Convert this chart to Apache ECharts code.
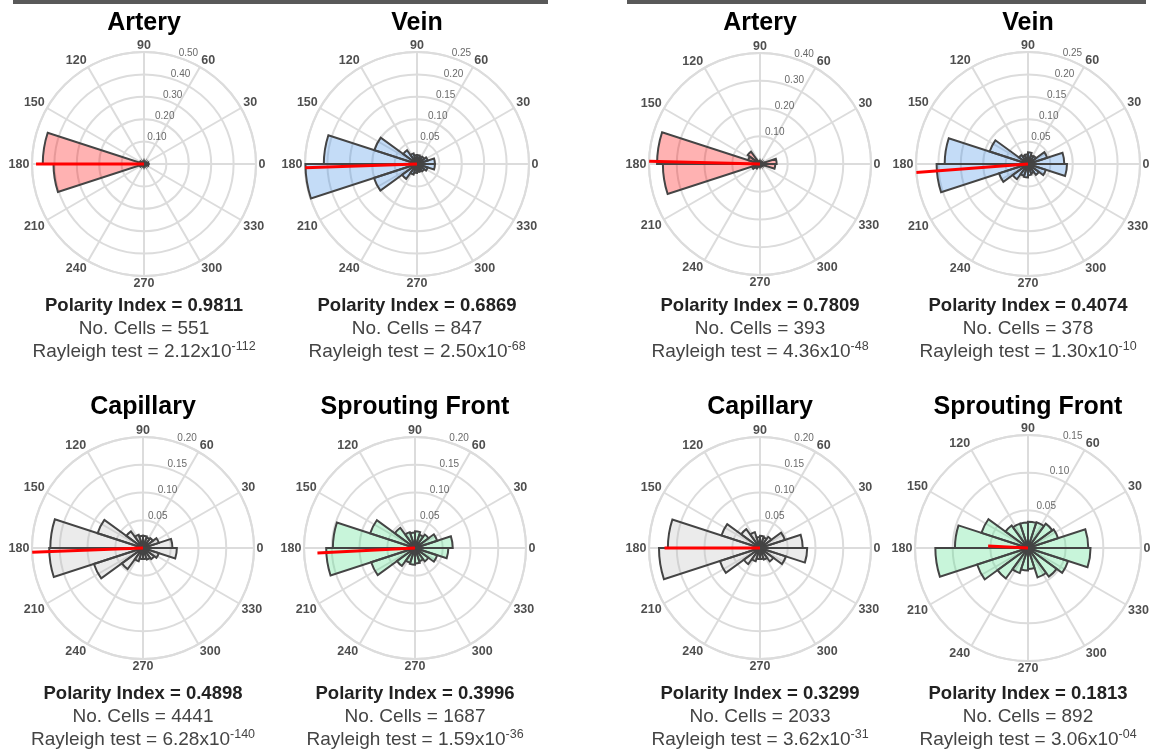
<!DOCTYPE html>
<html><head><meta charset="utf-8">
<script src="https://cdn.jsdelivr.net/npm/echarts@6/dist/echarts.min.js"></script>
<style>html,body{margin:0;padding:0;background:#fff}#c{width:1151px;height:755px}</style>
</head><body><div id="c"></div>
<script>
// ---------- DATA ----------
// 20 angular bins of 18 degrees, labelled by bin start angle (degrees, counter-clockwise from right)
const binStarts = [0,18,36,54,72,90,108,126,144,162,180,198,216,234,252,270,288,306,324,342];
// angle tick labels
const angleTicks = [0,30,60,90,120,150,180,210,240,270,300,330];

const panelNames = ['Artery','Vein','Artery','Vein','Capillary','Sprouting Front','Capillary','Sprouting Front'];

// fraction of cells per bin
const arteryLeft    = [0.020,0.006,0.004,0.004,0.005,0.004,0.005,0.008,0.020,0.452,0.404,0.020,0.008,0.005,0.004,0.004,0.004,0.005,0.006,0.020];
const veinLeft      = [0.040,0.025,0.020,0.018,0.020,0.020,0.025,0.038,0.100,0.208,0.249,0.101,0.041,0.025,0.020,0.018,0.018,0.020,0.025,0.040];
const arteryRight   = [0.060,0.010,0.006,0.005,0.006,0.006,0.010,0.055,0.045,0.371,0.350,0.030,0.020,0.006,0.005,0.005,0.006,0.008,0.012,0.055];
const veinRight     = [0.081,0.045,0.022,0.020,0.026,0.022,0.020,0.025,0.090,0.186,0.204,0.068,0.042,0.028,0.030,0.025,0.022,0.030,0.042,0.087];
const capillaryLeft = [0.053,0.030,0.022,0.020,0.022,0.022,0.025,0.037,0.086,0.167,0.169,0.093,0.047,0.025,0.020,0.020,0.022,0.025,0.030,0.061];
const sproutLeft    = [0.068,0.042,0.030,0.025,0.030,0.028,0.030,0.045,0.085,0.148,0.160,0.083,0.040,0.028,0.030,0.028,0.025,0.030,0.042,0.060];
const capillaryRight= [0.077,0.047,0.025,0.020,0.022,0.020,0.030,0.042,0.073,0.166,0.182,0.076,0.036,0.025,0.020,0.020,0.022,0.030,0.049,0.085];
const sproutRight   = [0.080,0.042,0.040,0.036,0.035,0.034,0.034,0.037,0.065,0.097,0.123,0.071,0.050,0.035,0.030,0.028,0.041,0.047,0.056,0.083];
const binValues = [arteryLeft, veinLeft, arteryRight, veinRight, capillaryLeft, sproutLeft, capillaryRight, sproutRight];

// radial axis: max and tick labels
const radialMax = [0.50, 0.25, 0.40, 0.25, 0.20, 0.20, 0.20, 0.15];
const radialTicks = [
  [0.10,0.20,0.30,0.40,0.50],
  [0.05,0.10,0.15,0.20,0.25],
  [0.10,0.20,0.30,0.40],
  [0.05,0.10,0.15,0.20,0.25],
  [0.05,0.10,0.15,0.20],
  [0.05,0.10,0.15,0.20],
  [0.05,0.10,0.15,0.20],
  [0.05,0.10,0.15]
];

// mean direction (red line): length in radial units, angle in degrees
const meanLength = [0.482, 0.251, 0.400, 0.254, 0.205, 0.176, 0.172, 0.053];
const meanAngle  = [180.0, 181.9, 178.6, 184.3, 182.2, 182.9, 180.0, 177.0];

// statistics
const polarityIndex = ['0.9811','0.6869','0.7809','0.4074','0.4898','0.3996','0.3299','0.1813'];
const cellCount     = ['551','847','393','378','4441','1687','2033','892'];
const rayleighBase  = ['2.12','2.50','4.36','1.30','6.28','1.59','3.62','3.06'];
const rayleighExp   = ['-112','-68','-48','-10','-140','-36','-31','-04'];

// ---------- LAYOUT / STYLE ----------
const layout = [
  {cx:144, cy:164, r:112}, {cx:417, cy:164, r:112}, {cx:760, cy:164, r:111}, {cx:1028, cy:164, r:112},
  {cx:143, cy:548, r:111}, {cx:415, cy:548, r:111}, {cx:760, cy:548, r:111}, {cx:1028, cy:548, r:113}
];
const nameTop  = [8, 8, 8, 8, 392, 392, 392, 392];
const statsTop = [294, 294, 294, 294, 682, 682, 682, 682];
const fills = ['rgba(255,0,0,0.3)','rgba(58,138,228,0.3)','rgba(255,0,0,0.3)','rgba(58,138,228,0.3)',
               'rgba(188,188,188,0.3)','rgba(72,222,132,0.3)','rgba(188,188,188,0.3)','rgba(72,222,132,0.3)'];
const FONT = "'Liberation Sans', Arial, Helvetica, sans-serif";
const GRID = '#dcdcdc';
const ANG_FS = 12.5;

// label box corner nearest the centre sits just outside the outer ring
function angleLabelOffset(a) {
  const rad = a * Math.PI / 180;
  const c = Math.cos(rad), s = Math.sin(rad);
  const halfW = String(a).length * ANG_FS * 0.556 / 2;
  const halfH = 4.6, gap = 2.6;
  const sx = Math.abs(c) < 0.3 ? 0 : Math.sign(c);
  const sy = Math.abs(s) < 0.3 ? 0 : Math.sign(s);
  return [c * gap + sx * halfW, -(s * gap + sy * halfH) + 0.5];
}

const polar = [], angleAxis = [], radiusAxis = [], series = [], title = [];
binValues.forEach((vals, i) => {
  const L = layout[i];
  const g = 2 * i, b = 2 * i + 1;
  polar.push({center:[L.cx, L.cy], radius:L.r});
  polar.push({center:[L.cx, L.cy], radius:L.r});
  angleAxis.push({
    polarIndex:g, type:'value', min:0, max:360, interval:30, startAngle:0, clockwise:false, z:1,
    axisLine:{show:true, lineStyle:{color:GRID, width:2}},
    axisTick:{show:false},
    axisLabel:{show:false},
    splitLine:{show:true, lineStyle:{color:GRID, width:2}}
  });
  angleAxis.push({
    polarIndex:b, type:'category', data:binStarts, startAngle:0, clockwise:false, boundaryGap:true,
    axisLine:{show:false}, axisTick:{show:false}, axisLabel:{show:false}, splitLine:{show:false}
  });
  const step = radialTicks[i][1] - radialTicks[i][0];
  radiusAxis.push({
    polarIndex:g, type:'value', min:0, max:radialMax[i], interval:Math.round(step*100)/100,
    axisLine:{show:false}, axisTick:{show:false}, axisLabel:{show:false},
    splitLine:{show:true, lineStyle:{color:GRID, width:2}}
  });
  radiusAxis.push({
    polarIndex:b, type:'value', min:0, max:radialMax[i],
    axisLine:{show:false}, axisTick:{show:false}, axisLabel:{show:false}, splitLine:{show:false}
  });
  series.push({
    type:'bar', coordinateSystem:'polar', polarIndex:b, data:vals,
    barCategoryGap:'0%', barGap:'0%', z:3, silent:true,
    itemStyle:{color:fills[i], borderColor:'#444', borderWidth:2}
  });
  series.push({
    type:'line', coordinateSystem:'polar', polarIndex:g, clip:false, z:5, silent:true,
    data:[[0, meanAngle[i]], [meanLength[i], meanAngle[i]]],
    symbol:'none', lineStyle:{color:'#ff0000', width:3}
  });
  // radial tick labels
  series.push({
    type:'scatter', coordinateSystem:'polar', polarIndex:g, z:6, silent:true,
    data: radialTicks[i].map(v => [v, 69.4]),
    symbolSize:1, itemStyle:{color:'rgba(0,0,0,0)'},
    label:{show:true, position:'inside', offset:[5,-6], fontSize:10, color:'#444', fontFamily:FONT,
      formatter: p => p.value[0].toFixed(2)}
  });
  // angle tick labels
  series.push({
    type:'scatter', coordinateSystem:'polar', polarIndex:g, z:6, silent:true, clip:false,
    data: angleTicks.map(a => ({value:[radialMax[i], a], label:{offset:angleLabelOffset(a)}})),
    symbolSize:1, itemStyle:{color:'rgba(0,0,0,0)'},
    label:{show:true, position:'inside', fontSize:ANG_FS, fontWeight:'bold', color:'#222', fontFamily:FONT,
      formatter: p => String(p.value[1])}
  });
  title.push({
    text:panelNames[i], left:L.cx, top:nameTop[i], textAlign:'center', padding:0,
    textStyle:{fontSize:25, fontWeight:'bold', color:'#000', fontFamily:FONT, lineHeight:30}
  });
  title.push({
    text:'{b|Polarity Index = ' + polarityIndex[i] + '}\n{n|No. Cells = ' + cellCount[i] + '}\n{n|Rayleigh test = ' + rayleighBase[i] + 'x10}{s|' + rayleighExp[i] + '}',
    left:L.cx, top:statsTop[i], textAlign:'center', padding:0,
    textStyle:{fontFamily:FONT, rich:{
      b:{fontSize:18.5, fontWeight:'bold', color:'#222', lineHeight:23, fontFamily:FONT},
      n:{fontSize:19, fontWeight:'normal', color:'#444', lineHeight:23, fontFamily:FONT},
      s:{fontSize:12.5, fontWeight:'normal', color:'#444', lineHeight:14, verticalAlign:'top', fontFamily:FONT}
    }}
  });
});

const chart = echarts.init(document.getElementById('c'), null, {renderer:'canvas'});
chart.setOption({
  animation:false,
  backgroundColor:'#fff',
  title, polar, angleAxis, radiusAxis, series,
  graphic:[
    {type:'rect', shape:{x:13, y:0, width:535, height:4}, style:{fill:'#595959'}},
    {type:'rect', shape:{x:627, y:0, width:519, height:4}, style:{fill:'#595959'}}
  ]
});
</script></body></html>
